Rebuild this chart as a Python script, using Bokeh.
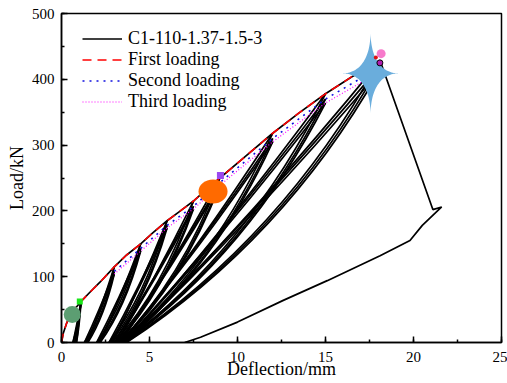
import numpy as np
from bokeh.plotting import figure
from bokeh.models import Range1d, SingleIntervalTicker, Legend, LegendItem
from bokeh.embed import file_html
from bokeh.resources import INLINE

# ---------------- data ----------------
# first loading (skeleton / envelope)
env_x = [0, 0.1, 0.3, 0.6, 1.1, 1.6, 2.2, 3.0, 3.7, 4.5, 5.2, 6.0, 6.7, 7.5, 8.2, 9.0,
         10.5, 12.0, 13.5, 15.0, 16.5, 18.0]
env_y = [0, 14, 30, 46, 62, 76, 92, 115, 133, 150, 167, 185, 199, 215, 232, 250,
         284, 318, 349, 378, 404, 425]

# loading levels (peak deflection) and peak loads of the 3 cycles at each level
lvl_x = [1.1, 3.0, 4.5, 6.0, 7.5, 9.0, 12.0, 15.0, 18.0]
lvl_p1 = [62, 115, 150, 185, 215, 250, 318, 378, 425]
lvl_p2 = [60, 108, 143, 178, 207, 243, 310, 370, 417]
lvl_p3 = [58, 104, 139, 174, 203, 239, 305, 364, 410]
# residual deflections after each unloading
res_1 = [0.65, 1.30, 2.00, 2.70, 3.00, 3.25, 3.40, 3.50, 3.60]
res_2 = [0.75, 1.40, 2.10, 2.80, 3.08, 3.30, 3.45, 3.55, 3.65]
res_3 = [0.85, 1.50, 2.20, 2.90, 3.15, 3.35, 3.50, 3.60, 3.70]

# second / third loading curves
sec_x = [3.0, 4.5, 6.0, 7.5, 9.0, 12.0, 15.0, 18.0]
sec_y = [108, 143, 178, 207, 243, 310, 370, 417]
thr_x = [3.0, 4.5, 6.0, 7.5, 9.0, 12.0, 15.0, 18.0]
thr_y = [104, 139, 174, 203, 239, 305, 364, 410]

# post-peak branch and final unloading
desc_x = [18.0, 18.2, 21.1, 21.6, 20.5, 19.8, 18.1, 15.1, 12.6, 10.0, 7.9, 7.0]
desc_y = [425, 421, 202, 206, 178, 155, 132, 94, 64, 31, 8, 0]

# markers
green_circle = (0.61, 42.5)
green_square = (1.04, 62.3)
orange_ellipse = (8.61, 229.5)
purple_square = (9.03, 253.8)
star_pt = (17.56, 409.0)
pink_circle = (18.16, 439.0)
purple_circle = (18.09, 425.0)
red_dot = (17.86, 433.0)

xticks_interval = 5
yticks_interval = 100

# ---------------- figure ----------------
FONT = "Liberation Serif"
W, H = 507, 383
p = figure(width=W, height=H, output_backend="svg", toolbar_location=None,
           x_range=Range1d(0, 25), y_range=Range1d(0, 500),
           min_border_left=61, min_border_right=6, min_border_top=13, min_border_bottom=41)
p.background_fill_color = "white"
p.border_fill_color = "white"
p.xgrid.visible = False
p.ygrid.visible = False
p.outline_line_color = "black"
p.outline_line_width = 1.5

p.xaxis.ticker = SingleIntervalTicker(interval=xticks_interval, num_minor_ticks=2)
p.yaxis.ticker = SingleIntervalTicker(interval=yticks_interval, num_minor_ticks=2)
for ax in (p.xaxis[0], p.yaxis[0]):
    ax.axis_line_width = 1.5
    ax.major_tick_in = 6
    ax.major_tick_out = 0
    ax.minor_tick_in = 3
    ax.minor_tick_out = 0
    ax.major_tick_line_width = 1.5
    ax.minor_tick_line_width = 1.5
    ax.major_label_text_font = FONT
    ax.major_label_text_font_size = "15px"
    ax.major_label_text_color = "black"
    ax.axis_label_text_font = FONT
    ax.axis_label_text_font_size = "18px"
    ax.axis_label_text_font_style = "normal"
    ax.axis_label_text_color = "black"
p.xaxis.axis_label = "Deflection/mm"
p.yaxis.axis_label = "Load/kN"
p.xaxis.major_label_standoff = 9
p.yaxis.major_label_standoff = 7
p.xaxis.axis_label_standoff = -6
p.yaxis.axis_label_standoff = 2

# ---------------- black hysteresis curve ----------------
BLACK_W = 1.7
# envelope pieces (first loading segments)
bounds = [0.0] + lvl_x
env_pieces_x, env_pieces_y = [], []
for a, b in zip(bounds[:-1], bounds[1:]):
    xs = [x for x in env_x if a <= x <= b]
    ys = [y for x, y in zip(env_x, env_y) if a <= x <= b]
    env_pieces_x.append(xs)
    env_pieces_y.append(ys)
black_env = p.multi_line(env_pieces_x, env_pieces_y, line_color="black", line_width=BLACK_W)

# loop branches as quadratic curves
UNL_CX, UNL_CY = 0.62, 0.38
REL_CX, REL_CY = 0.50, 0.45
x0s, y0s, x1s, y1s, cxs, cys = [], [], [], [], [], []


def branch(xa, ya, xb, yb, r, xp, yp, fx, fy):
    x0s.append(xa); y0s.append(ya); x1s.append(xb); y1s.append(yb)
    cxs.append(r + fx * (xp - r)); cys.append(fy * yp)


for i, xp in enumerate(lvl_x):
    peaks = [lvl_p1[i], lvl_p2[i], lvl_p3[i], lvl_p1[i]]
    ress = [res_1[i], res_2[i], res_3[i]]
    for k in range(3):
        r = ress[k]
        branch(xp, peaks[k], r, 0, r, xp, peaks[k], UNL_CX, UNL_CY)
        branch(r, 0, xp, peaks[k + 1], r, xp, peaks[k + 1], REL_CX, REL_CY)
p.quadratic(x0=x0s, y0=y0s, x1=x1s, y1=y1s, cx=cxs, cy=cys,
            line_color="black", line_width=BLACK_W)

black_main = p.line(desc_x, desc_y, line_color="black", line_width=BLACK_W)

# ---------------- loading curves ----------------
red = p.line(env_x, env_y, line_color="#FF0000", line_width=1.6, line_dash="9 6")
blue = p.line(sec_x, sec_y, line_color="#1010E0", line_width=1.6, line_dash="2 5")
mag = p.line(thr_x, thr_y, line_color="#FF00FF", line_width=1.2, line_dash="1 2")

# ---------------- markers ----------------
p.scatter([green_circle[0]], [green_circle[1]], size=17, marker="circle",
          fill_color="#5C9E72", line_color=None)
p.scatter([green_square[0]], [green_square[1]], size=6, marker="square",
          fill_color="#19E619", line_color=None)
p.ellipse([orange_ellipse[0]], [orange_ellipse[1]], width=29, height=24,
          width_units="screen", height_units="screen",
          fill_color="#FF6A00", line_color=None)
p.scatter([purple_square[0]], [purple_square[1]], size=7, marker="square",
          fill_color="#9B48F0", line_color=None)

# four-pointed star (shape in screen pixels, placed at data point)
frame_w_px, frame_h_px = 440, 329
mm_per_px = 25 / frame_w_px
kn_per_px = 500 / frame_h_px
STAR_HW, STAR_HH, STAR_POW = 28, 41, 3.8
t = np.linspace(0, 2 * np.pi, 181)
c, s = np.cos(t), np.sin(t)
sx = np.sign(c) * np.abs(c) ** STAR_POW
sy = np.sign(s) * np.abs(s) ** STAR_POW
p.patch(star_pt[0] + sx * STAR_HW * mm_per_px, star_pt[1] + sy * STAR_HH * kn_per_px,
        fill_color="#6AADDC", line_color=None)

p.scatter([pink_circle[0]], [pink_circle[1]], size=9, marker="circle",
          fill_color="#F77ACB", line_color=None)
p.scatter([red_dot[0]], [red_dot[1]], size=4, marker="circle",
          fill_color="#E01010", line_color=None)
p.scatter([purple_circle[0]], [purple_circle[1]], size=6, marker="circle",
          fill_color="#B01CB0", line_color="black", line_width=1)

# ---------------- legend ----------------
legend = Legend(items=[
    LegendItem(label="C1-110-1.37-1.5-3", renderers=[black_main]),
    LegendItem(label="First loading", renderers=[red]),
    LegendItem(label="Second loading", renderers=[blue]),
    LegendItem(label="Third loading", renderers=[mag]),
], location=(21, 230))
legend.border_line_color = None
legend.background_fill_alpha = 0
legend.padding = 0
legend.margin = 0
legend.spacing = 0
legend.glyph_width = 40
legend.glyph_height = 21
legend.label_height = 21
legend.label_standoff = 6
legend.label_text_font = FONT
legend.label_text_font_size = "18px"
legend.label_text_color = "black"
p.add_layout(legend)

open("out.html", "w").write(file_html(p, INLINE))
